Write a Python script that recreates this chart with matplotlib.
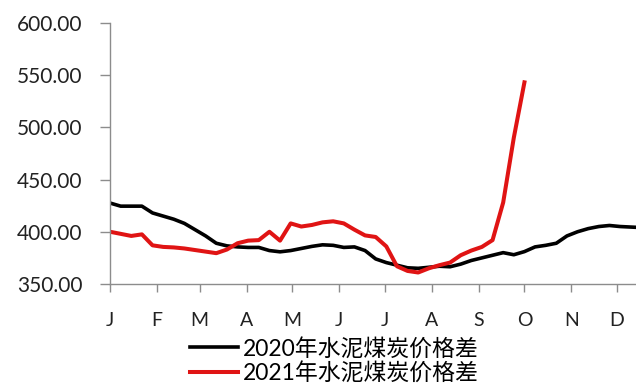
import numpy as np
import matplotlib.pyplot as plt
from matplotlib.ticker import FormatStrFormatter

plt.rcParams['font.family'] = ['Lato', 'Noto Sans CJK SC', 'DejaVu Sans']

# month labels and the day of year each month starts on
months = ['J', 'F', 'M', 'A', 'M', 'J', 'J', 'A', 'S', 'O', 'N', 'D']
month_start = [0, 31, 59, 90, 120, 151, 181, 212, 243, 273, 304, 334]

# weekly cement-coal price spread (yuan/t)
spread_2020 = [427.5, 424.5, 424.5, 424.5, 418, 415, 412, 408, 402, 396,
               389, 386.5, 385.5, 385, 385, 382, 380.8, 382, 384, 386,
               387.5, 387, 385, 385.5, 382, 374, 370.5, 368, 365.5, 365,
               366, 367, 366.5, 369, 372.5, 375, 377.5, 380, 378, 381,
               385.5, 387, 389, 396, 400, 403, 405, 406, 405, 404.5, 404]
spread_2021 = [400, 398, 396, 397.5, 387, 385.5, 385, 384, 382.5, 381,
               379.5, 383, 389, 391.5, 392, 400, 391.5, 408, 405, 406.5,
               409, 410, 408, 402, 396.5, 395, 386, 367, 362.5, 361,
               365, 368, 370.5, 377.5, 382, 385.5, 392, 428, 490, 543]

days_2020 = np.arange(len(spread_2020)) * 7
days_2021 = np.arange(len(spread_2021)) * 7

fig = plt.figure(figsize=(6.36, 3.83), dpi=100)
ax = fig.add_axes([0.173, 0.2585, 0.827, 0.682])

ax.plot(days_2020, spread_2020, color='black', lw=2.6,
        label='2020年水泥煤炭价格差')
ax.plot(days_2021, spread_2021, color='#e01414', lw=2.9,
        label='2021年水泥煤炭价格差')

ax.set_xlim(0, 346.5)
ax.set_ylim(350, 600)
ax.set_yticks(np.arange(350, 601, 50))
ax.yaxis.set_major_formatter(FormatStrFormatter('%.2f'))
ax.set_xticks(month_start)
ax.set_xticklabels(months)

for side in ['top', 'right']:
    ax.spines[side].set_visible(False)
for side in ['left', 'bottom']:
    ax.spines[side].set_color('#8c8c8c')
    ax.spines[side].set_linewidth(1)

ax.tick_params(axis='y', direction='out', length=7, width=1, color='#8c8c8c',
               labelsize=15, pad=13, labelcolor='#222222')
ax.tick_params(axis='x', direction='out', length=6, width=1, color='#8c8c8c',
               labelsize=14, pad=14, labelcolor='#222222')

fig.legend(loc='upper center', bbox_to_anchor=(334 / 636, 1 - 326 / 383),
           frameon=False, fontsize=16.5, handlelength=2.1, handletextpad=0.2,
           labelspacing=0.1, borderpad=0)

fig.savefig('out.png', dpi=100)
